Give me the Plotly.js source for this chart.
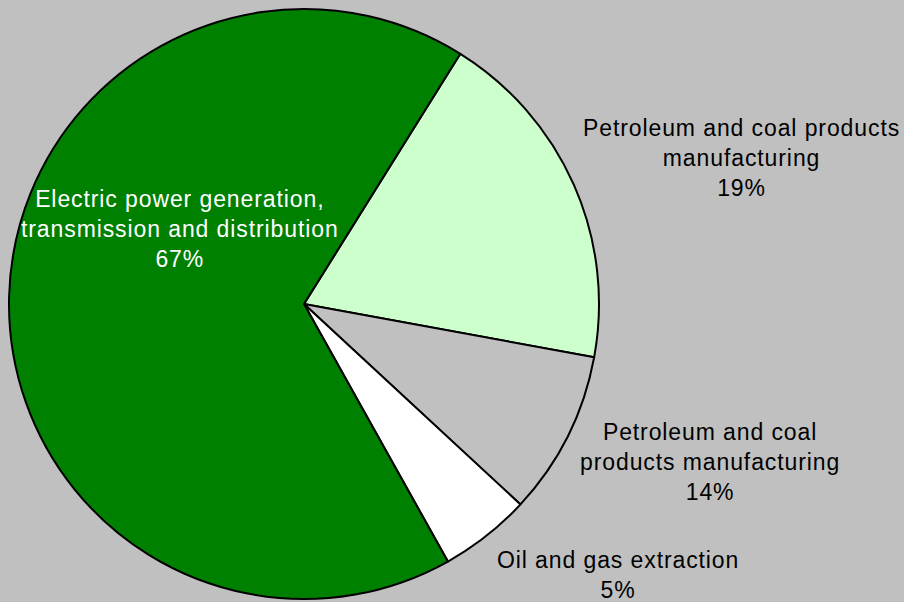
<!DOCTYPE html>
<html>
<head>
<meta charset="utf-8">
<script src="https://cdn.plot.ly/plotly-3.0.1.min.js"></script>
<style>html,body{margin:0;padding:0;background:#c0c0c0;}#chart{width:904px;height:602px;}svg text{letter-spacing:0.9px;}</style>
</head>
<body>
<div id="chart"></div>
<script>
// Data
var categories = [
  "Petroleum and coal products manufacturing",
  "Petroleum and coal products manufacturing ",
  "Oil and gas extraction",
  "Electric power generation, transmission and distribution"
];
var values = [19, 9, 5, 67];
var shownPercents = ["19%", "14%", "5%", "67%"];
var labelLines = [
  ["Petroleum and coal products", "manufacturing"],
  ["Petroleum and coal", "products manufacturing"],
  ["Oil and gas extraction"],
  ["Electric power generation,", "transmission and distribution"]
];

// Styling / layout
var sliceColors = ["#ccffcc", "#c0c0c0", "#ffffff", "#008000"];
var labelColors = ["#000000", "#000000", "#000000", "#ffffff"];
var labelCenters = [[741, 158], [710, 462], [618, 575], [180, 229]]; // pixel centers
var W = 904, H = 602;

var trace = {
  type: "pie",
  labels: categories,
  values: values,
  sort: false,
  direction: "clockwise",
  rotation: 32,
  textinfo: "none",
  hoverinfo: "none",
  marker: { colors: sliceColors, line: { color: "#000000", width: 2 } },
  domain: { x: [9 / W, 599 / W], y: [1 - 599 / H, 1 - 9 / H] },
  showlegend: false
};

var annotations = [];
for (var i = 0; i < categories.length; i++) {
  var lines = labelLines[i].concat([shownPercents[i]]);
  annotations.push({
    xref: "paper", yref: "paper",
    x: labelCenters[i][0] / W, y: 1 - labelCenters[i][1] / H,
    xanchor: "center", yanchor: "middle",
    text: lines.join("<br>"),
    showarrow: false,
    align: "center",
    font: { family: "Liberation Sans, Arial, sans-serif", size: 23, color: labelColors[i] }
  });
}

var layout = {
  width: W, height: H,
  margin: { l: 0, r: 0, t: 0, b: 0 },
  paper_bgcolor: "#c0c0c0",
  plot_bgcolor: "#c0c0c0",
  annotations: annotations
};

Plotly.newPlot("chart", [trace], layout, { displayModeBar: false, staticPlot: true });
</script>
</body>
</html>
